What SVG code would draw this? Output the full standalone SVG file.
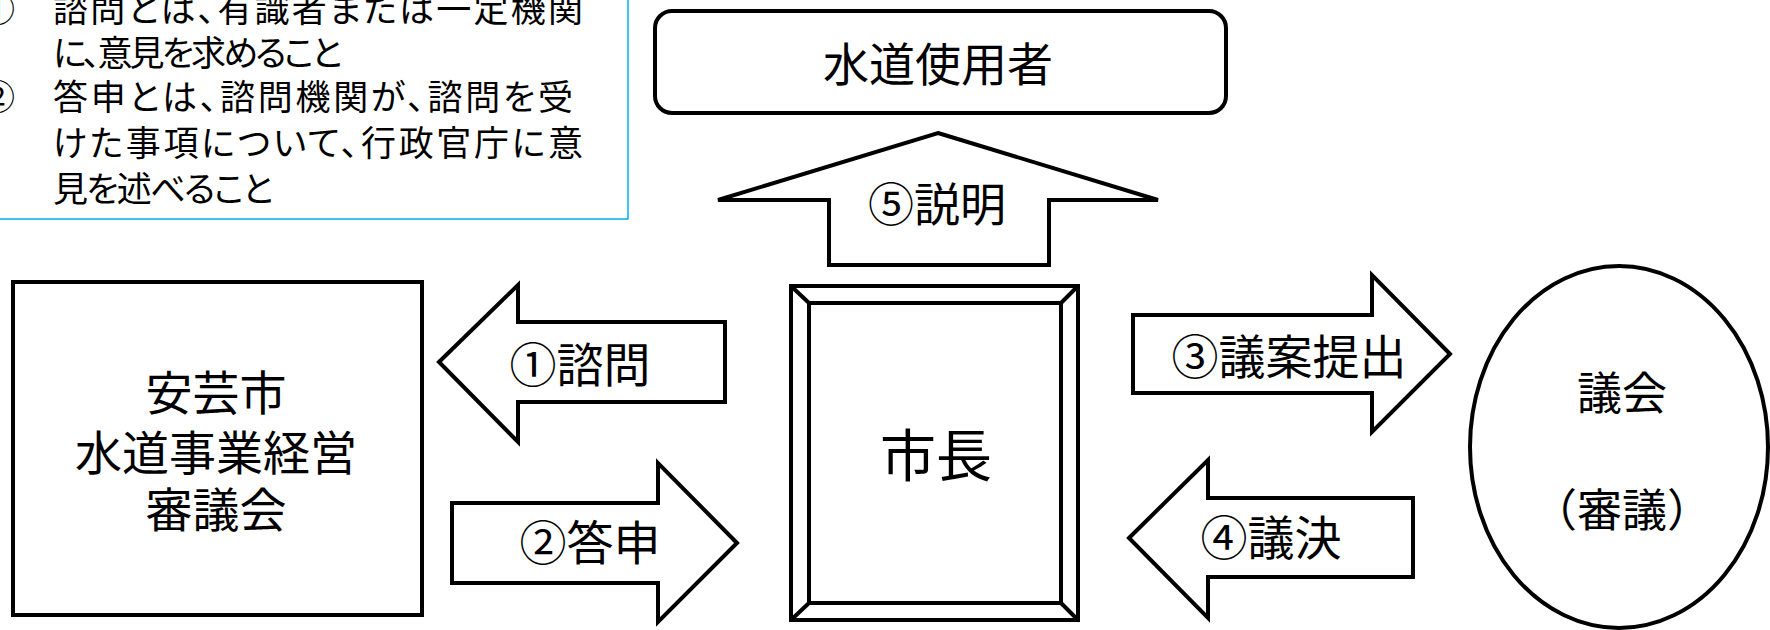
<svg xmlns="http://www.w3.org/2000/svg" width="1770" height="630" viewBox="0 0 1770 630">
<style>
.s{fill:#fff;stroke:#000;stroke-width:4;stroke-linejoin:miter}
.t{font-family:"Noto Sans CJK JP","Noto Sans CJK SC",sans-serif;fill:#000}
.c{text-anchor:middle}
.n{font-feature-settings:"palt"}
</style>
<rect width="1770" height="630" fill="#fff"/>
<g id="note">
<rect x="-3" y="-3" width="631" height="222" fill="#fff" stroke="#00B0F0" stroke-width="1.5"/>
<g class="t" font-size="35">
<text x="-20" y="22">①</text>
<text x="53" y="22" class="n" textLength="530" lengthAdjust="spacing">諮問とは、有識者または一定機関</text>
<text x="53" y="66" class="n" textLength="289" lengthAdjust="spacing">に、意見を求めること</text>
<text x="-20" y="110">②</text>
<text x="53" y="110" class="n" textLength="520" lengthAdjust="spacing">答申とは、諮問機関が、諮問を受</text>
<text x="53" y="156" class="n" textLength="530" lengthAdjust="spacing">けた事項について、行政官庁に意</text>
<text x="53" y="202" class="n" textLength="220" lengthAdjust="spacing">見を述べること</text>
</g>
</g>
<g id="users">
<rect class="s" x="655" y="11" width="571" height="102" rx="17"/>
<text class="t c" x="938" y="81" font-size="46">水道使用者</text>
</g>
<g id="council-board">
<rect class="s" x="13" y="282" width="409" height="333"/>
<g class="t c" font-size="47">
<text x="216" y="410">安芸市</text>
<text x="216" y="470">水道事業経営</text>
<text x="216" y="527">審議会</text>
</g>
</g>
<g id="mayor">
<rect class="s" x="791" y="286" width="287" height="334"/>
<rect class="s" x="809" y="303" width="252" height="300"/>
<path d="M791,286 L809,303 M1078,286 L1061,303 M791,620 L809,603 M1078,620 L1061,603" stroke="#000" stroke-width="4" fill="none"/>
<text class="t c" x="936" y="476" font-size="56">市長</text>
</g>
<g id="assembly">
<ellipse class="s" cx="1619" cy="447" rx="149" ry="181"/>
<text class="t c" x="1622" y="410" font-size="45">議会</text>
<text class="t c" x="1622" y="527" font-size="45">（審議）</text>
</g>
<g id="connectors">
<g id="a1">
<polygon class="s" points="439,362 518,285 518,322 725,322 725,402 518,402 518,442"/>
<text class="t c" x="580" y="382" font-size="47">①諮問</text>
</g>
<g id="a2">
<polygon class="s" points="737,543 658,463 658,503 452,503 452,583 658,583 658,622"/>
<text class="t c" x="590" y="560" font-size="47">②答申</text>
</g>
<g id="a3">
<polygon class="s" points="1450,354 1372,275 1372,315 1133,315 1133,393 1372,393 1372,432"/>
<text class="t c" x="1289" y="374" font-size="47">③議案提出</text>
</g>
<g id="a4">
<polygon class="s" points="1129,538 1208,460 1208,498 1413,498 1413,577 1208,577 1208,618"/>
<text class="t c" x="1271" y="555" font-size="47">④議決</text>
</g>
<g id="a5">
<polygon class="s" points="938,133 1158,200 1049,200 1049,265 829,265 829,200 718,200"/>
<text class="t c" x="937" y="221" font-size="46">⑤説明</text>
</g>
</g>
</svg>
